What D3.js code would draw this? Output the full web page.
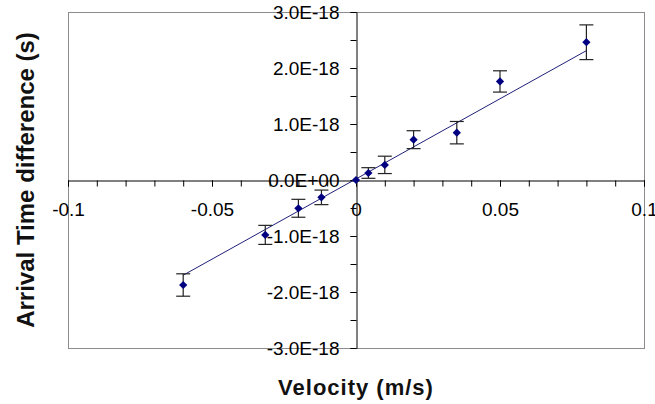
<!DOCTYPE html>
<html>
<head>
<meta charset="utf-8">
<script src="https://cdn.jsdelivr.net/npm/d3@7"></script>
<style>
  body { margin: 0; background: #fff; }
  svg { display: block; }
  text { font-family: "Liberation Sans", Arial, sans-serif; }
</style>
</head>
<body>
<div id="chart"></div>
<script>
// Measured points (velocity m/s, arrival time difference s, error s)
const velocity = [-0.06, -0.0315, -0.02, -0.012, 0, 0.0043, 0.01, 0.02, 0.035, 0.05, 0.08]
const timeDiff = [-1.875e-18, -0.98e-18, -0.505e-18, -0.31e-18, 0, 0.125e-18, 0.27e-18, 0.72e-18, 0.845e-18, 1.76e-18, 2.46e-18]
const timeErr = [0.2e-18, 0.17e-18, 0.16e-18, 0.13e-18, 0, 0.095e-18, 0.155e-18, 0.16e-18, 0.2e-18, 0.19e-18, 0.31e-18]

// Trend line end points
const trendX = [-0.06, 0.08]
const trendY = [-1.70e-18, 2.31e-18]

// Ticks
const xMajorTicks = [-0.1, -0.05, 0, 0.05, 0.1]
const xMinorTicks = d3.range(-10, 11).map(function (i) { return i / 100 })
const yMajorTicks = [-3e-18, -2e-18, -1e-18, 0, 1e-18, 2e-18, 3e-18]
const yMinorTicks = d3.range(-6, 7).map(function (i) { return i * 0.5e-18 })

const width = 655
const height = 404
const plot = { left: 68, right: 644, top: 12, bottom: 348 }

const svg = d3.select("#chart").append("svg")
    .attr("width", width)
    .attr("height", height)

const x = d3.scaleLinear().domain([-0.1, 0.1]).range([plot.left, plot.right])
const y = d3.scaleLinear().domain([-3e-18, 3e-18]).range([plot.bottom, plot.top])

// Excel style scientific labels e.g. 3.0E-18, 0.0E+00
function sci(v) {
    const s = v.toExponential(1).toUpperCase()
    return s.replace(/E([+-])(\d)$/, "E$10$2")
}

// Plot area border
svg.append("rect")
    .attr("x", plot.left + 0.5)
    .attr("y", plot.top + 0.5)
    .attr("width", plot.right - plot.left)
    .attr("height", plot.bottom - plot.top)
    .attr("fill", "none")
    .attr("stroke", "#8c8c8c")

// X axis crossing at y = 0
svg.append("g")
    .attr("transform", "translate(0," + (Math.round(y(0)) + 0.5) + ")")
    .call(d3.axisBottom(x).tickValues(xMinorTicks).tickSize(6).tickSizeOuter(0).tickFormat(""))
svg.append("g")
    .attr("transform", "translate(0," + (Math.round(y(0)) + 0.5) + ")")
    .call(d3.axisBottom(x).tickValues(xMajorTicks).tickSize(6).tickSizeOuter(0).tickPadding(16)
        .tickFormat(function (d) { return String(d) }))
    .call(function (g) { g.select(".domain").remove() })

// Y axis crossing at x = 0
svg.append("g")
    .attr("transform", "translate(" + (Math.round(x(0)) + 0.5) + ",0)")
    .call(d3.axisLeft(y).tickValues(yMinorTicks).tickSize(6).tickSizeOuter(0).tickFormat(""))
svg.append("g")
    .attr("transform", "translate(" + (Math.round(x(0)) + 0.5) + ",0)")
    .call(d3.axisLeft(y).tickValues(yMajorTicks).tickSize(6).tickSizeOuter(0).tickPadding(11).tickFormat(sci))
    .call(function (g) { g.select(".domain").remove() })

svg.selectAll(".tick text")
    .attr("font-size", 19)
    .attr("font-family", "Liberation Sans, Arial, sans-serif")
    .attr("fill", "#000")
svg.selectAll(".tick line, .domain").attr("stroke", "#000")

// Trend line
const line = d3.line()
    .x(function (d) { return x(d[0]) })
    .y(function (d) { return y(d[1]) })
svg.append("path")
    .datum(d3.zip(trendX, trendY))
    .attr("d", line)
    .attr("fill", "none")
    .attr("stroke", "#20207a")
    .attr("stroke-width", 1)

// Error bars
const points = velocity.map(function (v, i) { return { v: v, t: timeDiff[i], e: timeErr[i] } })
const bars = svg.append("g").attr("stroke", "#222").attr("stroke-width", 1.2)
points.filter(function (d) { return d.e > 0 }).forEach(function (d) {
    const cx = x(d.v)
    bars.append("line").attr("x1", cx).attr("x2", cx).attr("y1", y(d.t - d.e)).attr("y2", y(d.t + d.e))
    bars.append("line").attr("x1", cx - 7).attr("x2", cx + 7).attr("y1", y(d.t - d.e)).attr("y2", y(d.t - d.e))
    bars.append("line").attr("x1", cx - 7).attr("x2", cx + 7).attr("y1", y(d.t + d.e)).attr("y2", y(d.t + d.e))
})

// Diamond markers
svg.append("g").selectAll("path")
    .data(points)
    .join("path")
    .attr("d", d3.symbol(d3.symbolSquare).size(34))
    .attr("transform", function (d) { return "translate(" + x(d.v) + "," + y(d.t) + ") rotate(45)" })
    .attr("fill", "#000080")

// Axis titles
svg.append("text")
    .attr("x", x(0))
    .attr("y", 395)
    .attr("text-anchor", "middle")
    .attr("font-size", 22)
    .attr("font-weight", "bold")
    .attr("letter-spacing", 1)
    .attr("fill", "#111")
    .text("Velocity (m/s)")

svg.append("text")
    .attr("transform", "translate(34," + y(0) + ") rotate(-90)")
    .attr("text-anchor", "middle")
    .attr("font-size", 24)
    .attr("font-weight", "bold")
    .attr("fill", "#111")
    .text("Arrival Time difference (s)")
</script>
</body>
</html>
